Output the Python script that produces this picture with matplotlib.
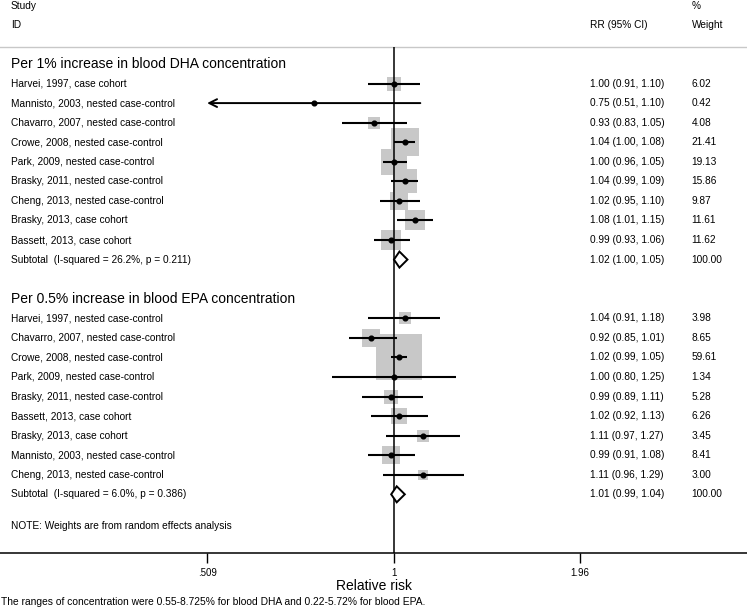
import matplotlib
matplotlib.use("Agg")
import matplotlib.pyplot as plt
from matplotlib.ticker import NullLocator

plt.rcParams['font.family'] = ['Liberation Sans', 'DejaVu Sans']

# per 1% increase in DHA
dha_names = ["Harvei, 1997, case cohort", "Mannisto, 2003, nested case-control",
             "Chavarro, 2007, nested case-control", "Crowe, 2008, nested case-control",
             "Park, 2009, nested case-control", "Brasky, 2011, nested case-control",
             "Cheng, 2013, nested case-control", "Brasky, 2013, case cohort",
             "Bassett, 2013, case cohort"]
dha_rr = [1.00, 0.75, 0.93, 1.04, 1.00, 1.04, 1.02, 1.08, 0.99]
dha_lo = [0.91, 0.51, 0.83, 1.00, 0.96, 0.99, 0.95, 1.01, 0.93]
dha_hi = [1.10, 1.10, 1.05, 1.08, 1.05, 1.09, 1.10, 1.15, 1.06]
dha_w = [6.02, 0.42, 4.08, 21.41, 19.13, 15.86, 9.87, 11.61, 11.62]
dha_sub = [1.02, 1.00, 1.05]
dha_sub_label = "Subtotal  (I-squared = 26.2%, p = 0.211)"

# per 0.5% increase in EPA
epa_names = ["Harvei, 1997, nested case-control", "Chavarro, 2007, nested case-control",
             "Crowe, 2008, nested case-control", "Park, 2009, nested case-control",
             "Brasky, 2011, nested case-control", "Bassett, 2013, case cohort",
             "Brasky, 2013, case cohort", "Mannisto, 2003, nested case-control",
             "Cheng, 2013, nested case-control"]
epa_rr = [1.04, 0.92, 1.02, 1.00, 0.99, 1.02, 1.11, 0.99, 1.11]
epa_lo = [0.91, 0.85, 0.99, 0.80, 0.89, 0.92, 0.97, 0.91, 0.96]
epa_hi = [1.18, 1.01, 1.05, 1.25, 1.11, 1.13, 1.27, 1.08, 1.29]
epa_w = [3.98, 8.65, 59.61, 1.34, 5.28, 6.26, 3.45, 8.41, 3.00]
epa_sub = [1.01, 0.99, 1.04]
epa_sub_label = "Subtotal  (I-squared = 6.0%, p = 0.386)"

groups = [
    ("Per 1% increase in blood DHA concentration", dha_names, dha_rr, dha_lo, dha_hi, dha_w, dha_sub, dha_sub_label),
    ("Per 0.5% increase in blood EPA concentration", epa_names, epa_rr, epa_lo, epa_hi, epa_w, epa_sub, epa_sub_label),
]

ticks = [0.509, 1, 1.96]
tick_labels = [".509", "1", "1.96"]
xmin, xmax = 0.2408, 3.582

fig = plt.figure(figsize=(7.47, 6.08), dpi=100)
ax = fig.add_axes([0, 55 / 608, 1, 553 / 608])
ax.set_xscale("log")
ax.set_xlim(xmin, xmax)
ax.set_ylim(25, -3.27)
ax.xaxis.set_minor_locator(NullLocator())
ax.set_xticks(ticks)
ax.set_xticklabels(tick_labels)
ax.tick_params(axis="x", direction="out", length=7, width=1, labelsize=7, pad=3.5)
ax.set_yticks([])
for s in ["top", "left", "right"]:
    ax.spines[s].set_visible(False)
ax.spines["bottom"].set_linewidth(1.1)
ax.set_xlabel("Relative risk", fontsize=10, labelpad=1)

tr = ax.get_yaxis_transform()
fs = 7.3
x_lab = 0.0147
x_rr = 0.79
x_w = 0.926

# column headers
ax.text(x_lab, -2.95, "Study", transform=tr, fontsize=fs, va="center")
ax.text(x_lab, -1.99, "ID", transform=tr, fontsize=fs, va="center")
ax.text(x_w, -2.95, "%", transform=tr, fontsize=fs, va="center")
ax.text(x_rr, -1.99, "RR (95% CI)", transform=tr, fontsize=fs, va="center")
ax.text(x_w, -1.99, "Weight", transform=tr, fontsize=fs, va="center")
ax.axhline(-0.87, color="#c8c8c8", lw=1)
ax.vlines(1, -0.87, 25, color="black", lw=1.1, zorder=3)

row = 0
for title, names, rr, lo, hi, w, sub, sub_label in groups:
    ax.text(x_lab, row, title, transform=tr, fontsize=10, va="center")
    row += 1
    for i in range(len(names)):
        ax.text(x_lab, row, names[i], transform=tr, fontsize=fs, va="center")
        ax.text(x_rr, row, "%.2f (%.2f, %.2f)" % (rr[i], lo[i], hi[i]), transform=tr, fontsize=fs, va="center")
        ax.text(x_w, row, "%.2f" % w[i], transform=tr, fontsize=fs, va="center")
        ax.scatter([rr[i]], [row], marker="s", s=18.7 * w[i], color="#c8c8c8", lw=0, zorder=2)
        if lo[i] < 0.515:
            ax.annotate("", xy=(ticks[0], row), xytext=(hi[i], row),
                        arrowprops=dict(arrowstyle="->", lw=1.4, color="black", mutation_scale=14,
                                        shrinkA=0, shrinkB=0), zorder=4)
        else:
            ax.plot([lo[i], hi[i]], [row, row], color="black", lw=1.5, zorder=4, solid_capstyle="butt")
        ax.plot([rr[i]], [row], marker="o", ms=3.4, color="black", zorder=5)
        row += 1
    ax.text(x_lab, row, sub_label, transform=tr, fontsize=fs, va="center")
    ax.text(x_rr, row, "%.2f (%.2f, %.2f)" % tuple(sub), transform=tr, fontsize=fs, va="center")
    ax.text(x_w, row, "100.00", transform=tr, fontsize=fs, va="center")
    ax.fill([sub[1], sub[0], sub[2], sub[0]], [row, row - 0.41, row, row + 0.41],
            facecolor="white", edgecolor="black", lw=1.4, zorder=6)
    row += 2

ax.text(x_lab, 23.6, "NOTE: Weights are from random effects analysis", transform=tr, fontsize=fs, va="center")

fig.text(0.001, 0.0099, "The ranges of concentration were 0.55-8.725% for blood DHA and 0.22-5.72% for blood EPA.",
         fontsize=7.4, va="center")

fig.savefig("out.png", dpi=100)
